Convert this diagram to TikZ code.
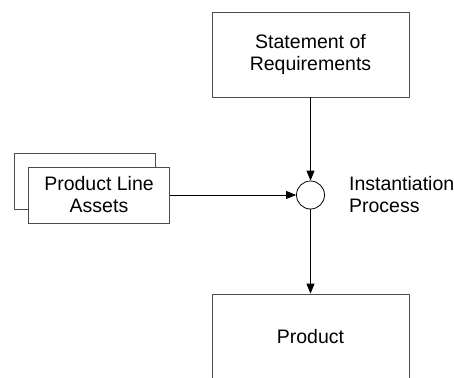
\documentclass[tikz,border=0pt]{standalone}
\usepackage{fontspec}
\setmainfont{Liberation Sans}
\usetikzlibrary{arrows.meta, positioning}

\begin{document}
\begin{tikzpicture} [x=1pt, y=1pt,
            on grid,
            font=\fontsize{19.5}{22}\selectfont,
            box/.style={draw=black!70, line width=0.8pt, fill=white,
                align=center, inner sep=0pt,
                minimum width=197pt, minimum height=85pt},
            asset/.style={box, minimum width=141pt, minimum height=56pt},
            flow/.style={-{Triangle[length=10pt, width=8pt]}, line width=0.8pt}]

        \useasboundingbox (0,0) rectangle (454,-377);

        % Statement of requirements
        \node (req) [box] at (310.5,-54.5) {Statement of\\Requirements};

        % Instantiation step
        \node (inst) [circle, draw, line width=0.8pt,
            minimum size=28pt, inner sep=0pt,
            below = 140.5pt of req] {};

        \node (instlabel) [on grid=false, inner sep=0pt, align=left,
            right = 24pt of inst] {Instantiation\\Process};

        % Product line assets (stacked)
        \node (assetsback) [asset] at (84.5,-181) {};
        \node (assets) [asset,
            left = 211.5pt of inst] {Product Line\\Assets};

        % Product
        \node (prod) [box,
            below = 141.5pt of inst] {Product};

        % Arrows
        \path [flow]
            (req) edge (inst)
            (assets) edge (inst)
            (inst) edge (prod)
            ;
        \end{tikzpicture}
\end{document}
